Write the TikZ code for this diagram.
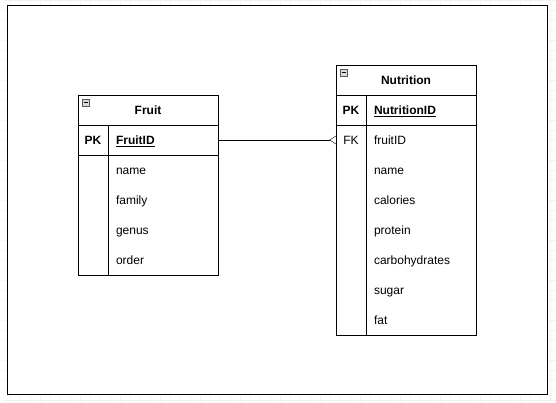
\documentclass[tikz,border=0pt]{standalone}
\usepackage{fontspec}
\setmainfont{Liberation Sans}
\usetikzlibrary{positioning,arrows.meta}

\begin{document}
\begin{tikzpicture}[x=1pt, y=1pt, font=\fontsize{12}{14}\selectfont,
    cell/.style={draw, rectangle, inner sep=0pt, outer sep=0pt, minimum height=30pt, text height=10.5pt, text depth=1.5pt},
    tblhead/.style={cell, minimum width=140pt, font=\fontsize{12}{14}\selectfont\bfseries},
    keycell/.style={cell, minimum width=30pt, font=\fontsize{12}{14}\selectfont\bfseries},
    keytxt/.style={keycell, draw=none, font=\fontsize{12}{14}\selectfont},
    fieldcell/.style={cell, text width=94pt, inner xsep=8pt, align=left},
    fieldtxt/.style={fieldcell, draw=none, anchor=north west},
    bodybox/.style={draw, rectangle, inner sep=0pt, outer sep=0pt, minimum width=140pt},
    icon/.style={draw=gray!70!black, fill=gray!30, minimum size=7pt, inner sep=0pt, anchor=north west}]
    \useasboundingbox (0,0) rectangle (556,-403);
    \draw[gray!10, step=10] (3,-403) grid (556,3);
    \fill[white] (7.5,-5.5) rectangle (547.5,-394.5);
    \draw[line width=1.2pt] (7.5,-5.5) rectangle (547.5,-394.5);

    % Fruit table
    \node[tblhead, anchor=north west] (fruit) at (78,-95) {Fruit};
    \node[icon] (fruiticon) at ([xshift=4, yshift=-4]fruit.north west) {};
    \draw[line width=0.8pt] ([xshift=1.5]fruiticon.west) -- ([xshift=-1.5]fruiticon.east);
    \node[keycell, below right=0pt of fruit.south west] (fruitpk) {PK};
    \node[fieldcell, right=0pt of fruitpk, font=\fontsize{12}{14}\selectfont\bfseries] (fruitid) {\underline{FruitID}};
    \node[bodybox, minimum height=120pt, below right=0pt of fruitpk.south west] (fruitbody) {};
    \draw (fruitpk.south east) -- (fruitpk.south east |- fruitbody.south);
    \foreach \f [count=\i] in {name,family,genus,order}
        \node[fieldtxt] (fruitf\i) at ([yshift={-30*(\i-1)}]fruitid.south west) {\f};

    % Nutrition table
    \node[tblhead, anchor=north west] (nut) at (336,-65) {Nutrition};
    \node[icon] (nuticon) at ([xshift=4, yshift=-4]nut.north west) {};
    \draw[line width=0.8pt] ([xshift=1.5]nuticon.west) -- ([xshift=-1.5]nuticon.east);
    \node[keycell, below right=0pt of nut.south west] (nutpk) {PK};
    \node[fieldcell, right=0pt of nutpk, font=\fontsize{12}{14}\selectfont\bfseries] (nutid) {\underline{NutritionID}};
    \node[bodybox, minimum height=210pt, below right=0pt of nutpk.south west] (nutbody) {};
    \draw (nutpk.south east) -- (nutpk.south east |- nutbody.south);
    \node[keytxt, below=0pt of nutpk] (nutfk) {FK};
    \foreach \f [count=\i] in {fruitID,name,calories,protein,carbohydrates,sugar,fat}
        \node[fieldtxt] (nutf\i) at ([yshift={-30*(\i-1)}]nutid.south west) {\f};

    \draw[-{Straight Barb[reversed, length=6pt, width=8pt]}] (fruitid.east) -- (nutfk.west);
\end{tikzpicture}
\end{document}
